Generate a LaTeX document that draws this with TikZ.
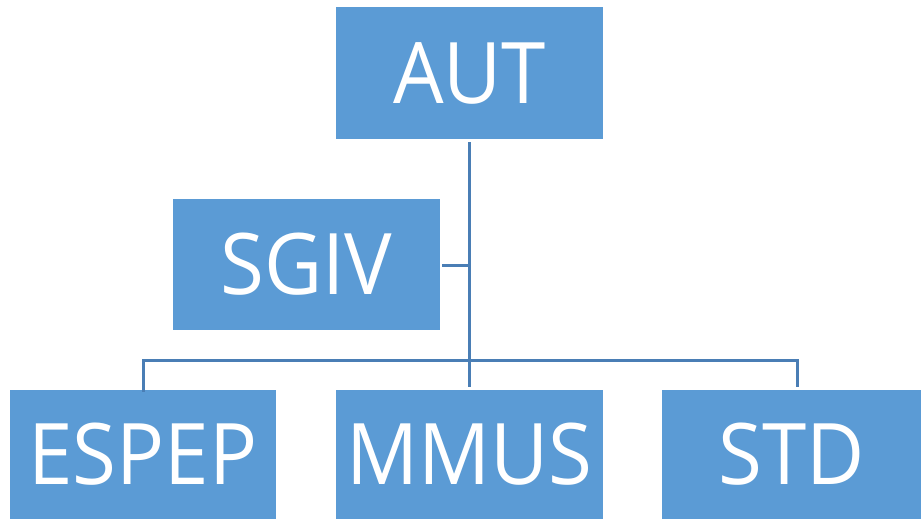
\documentclass[tikz,border=0pt]{standalone}
\usepackage{fontspec}
\setmainfont{Open Sans}[FakeStretch=0.94]
\definecolor{boxfill}{HTML}{5B9BD5}
\definecolor{linecol}{HTML}{4A7EB5}
\begin{document}
\begin{tikzpicture}[x=1pt,y=-1pt,
  orgbox/.style={fill=boxfill,draw=none,text=white,font=\fontsize{85}{90}\selectfont,inner sep=0pt},
  conn/.style={draw=linecol,line width=3pt}]
\useasboundingbox (0,0) rectangle (922,519);
\fill[white] (0,0) rectangle (922,519);
\node[orgbox,minimum width=267pt,minimum height=131pt] (aut) at (469.5,73) {AUT};
\node[orgbox,minimum width=267pt,minimum height=131pt] (sgiv) at (306.5,264.5) {SGIV};
\node[orgbox,minimum width=266pt,minimum height=129pt] (espep) at (143,454.5) {ESPEP};
\node[orgbox,minimum width=267pt,minimum height=129pt] (mmus) at (469.5,454.5) {MMUS};
\node[orgbox,minimum width=259pt,minimum height=129pt] (std) at (791.5,454.5) {STD};
\coordinate (jt) at (469,142);
\coordinate (jb) at (469,387);
\coordinate (js) at (469,265);
\coordinate (jm) at (469,360);
\coordinate (jstd) at (797,387);
\draw[conn] (jt) -- (jb);
\draw[conn] (sgiv.east |- js) ++(2,0) -- (js);
\draw[conn] ([yshift=-2pt]espep.north) |- (jm) -| (jstd);
\end{tikzpicture}
\end{document}
